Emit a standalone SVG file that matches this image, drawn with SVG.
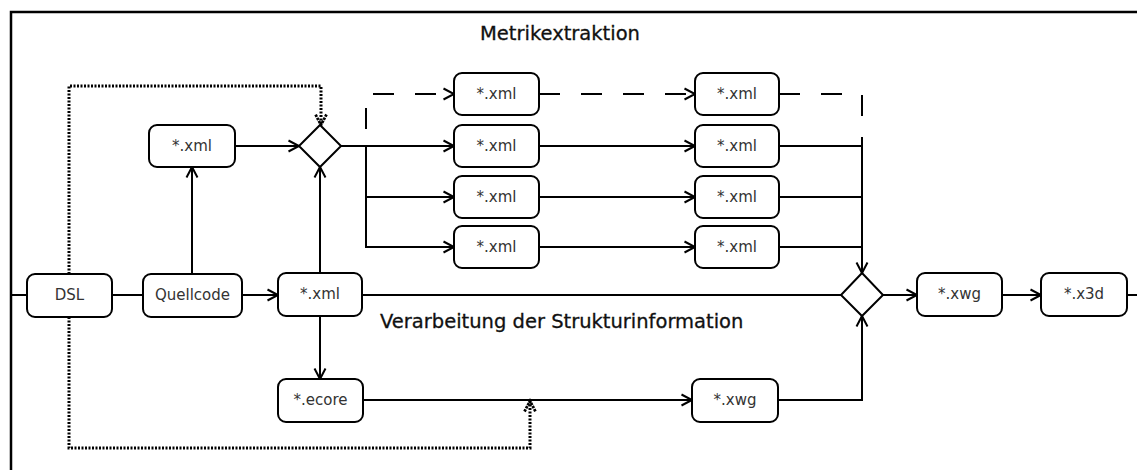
<svg xmlns="http://www.w3.org/2000/svg" width="1137" height="470" viewBox="0 0 1137 470">
  <style>
    .frame { fill: none; stroke: #000; stroke-width: 2.5; }
    .node rect { fill: #fff; stroke: #000; stroke-width: 2; }
    .node text { font-family: "DejaVu Sans", "Liberation Sans", sans-serif; font-size: 15px; fill: #333; text-anchor: middle; }
    .decision { fill: #fff; stroke: #000; stroke-width: 2; }
    .title { font-family: "DejaVu Sans", "Liberation Sans", sans-serif; font-size: 19.5px; fill: #111; stroke: #111; stroke-width: 0.3; }
    .edge { fill: none; stroke: #000; stroke-width: 2; }
    .arrow { marker-end: url(#open-arrow); }
    .dashed { stroke-dasharray: 21 21; }
    .dotted { fill: none; stroke: #000; stroke-width: 3; stroke-dasharray: 2 1.5; marker-end: url(#dotted-arrow); }
  </style>
  <defs>
    <marker id="open-arrow" markerUnits="userSpaceOnUse" markerWidth="14" markerHeight="14" refX="11" refY="6" orient="auto" overflow="visible">
      <path d="M0.5,0.5 L11,6 L0.5,11.5" fill="none" stroke="#000" stroke-width="2"/>
    </marker>
    <marker id="dotted-arrow" markerUnits="userSpaceOnUse" markerWidth="14" markerHeight="14" refX="11" refY="6" orient="auto" overflow="visible">
      <path d="M0.5,0.5 L11,6 L0.5,11.5" fill="none" stroke="#000" stroke-width="2.8" stroke-dasharray="2.5 1"/>
    </marker>
  </defs>

  <rect width="1137" height="470" fill="#fff"/>

  <!-- partition frame: top edge and left edge -->
  <path class="frame" d="M11,470 V12 H1137"/>

  <text class="title" x="480" y="40">Metrikextraktion</text>
  <text class="title" x="380" y="328">Verarbeitung der Strukturinformation</text>

  <g id="connectors">
    <!-- main flow -->
    <path class="edge" d="M11,295 H27"/>
    <path class="edge" d="M112,295 H143"/>
    <path class="edge arrow" d="M242,295 H278"/>
    <path class="edge arrow" d="M192,274 V167"/>
    <path class="edge arrow" d="M235,146 H299"/>
    <path class="edge arrow" d="M320,273 V167"/>
    <path class="edge arrow" d="M320,316 V379"/>
    <path class="edge" d="M362,295 H841"/>

    <!-- fork after the upper decision -->
    <path class="edge arrow" d="M341,146 H454"/>
    <path class="edge arrow" d="M366,146 V247 H454"/>
    <path class="edge arrow" d="M366,197 H454"/>
    <path class="edge dashed arrow" stroke-dashoffset="25" d="M366,146 V94 H454"/>

    <!-- metric rows -->
    <path class="edge dashed arrow" d="M539,94 H695"/>
    <path class="edge arrow" d="M539,146 H695"/>
    <path class="edge arrow" d="M539,197 H695"/>
    <path class="edge arrow" d="M539,247 H695"/>

    <!-- join into the merge decision -->
    <path class="edge dashed" d="M779,94 H862 V146"/>
    <path class="edge" d="M779,146 H862"/>
    <path class="edge" d="M779,197 H862"/>
    <path class="edge" d="M779,247 H862"/>
    <path class="edge arrow" d="M862,139 V273"/>

    <!-- structure branch -->
    <path class="edge arrow" d="M363,400 H692"/>
    <path class="edge arrow" d="M778,400 H862 V316"/>

    <!-- output chain -->
    <path class="edge arrow" d="M883,295 H917"/>
    <path class="edge arrow" d="M1002,295 H1041"/>
    <path class="edge" d="M1127,295 H1137"/>

    <!-- DSL dependencies -->
    <path class="dotted" d="M69,274 V86 H321 V125"/>
    <path class="dotted" d="M69,317 V448 H530 V401"/>
  </g>

  <g id="dsl" class="node"><rect x="27" y="274" width="85" height="43" rx="8"/><text x="69.5" y="300">DSL</text></g>
  <g id="quellcode" class="node"><rect x="143" y="274" width="99" height="43" rx="8"/><text x="192.5" y="300">Quellcode</text></g>
  <g id="xml-main" class="node"><rect x="278" y="273" width="84" height="43" rx="8"/><text x="320" y="299">*.xml</text></g>
  <g id="xml-top" class="node"><rect x="149" y="125" width="86" height="42" rx="8"/><text x="192" y="151">*.xml</text></g>
  <g id="decision-top"><polygon class="decision" points="320,125 341,146 320,167 299,146"/></g>

  <g id="xml-a1" class="node"><rect x="454" y="73" width="85" height="42" rx="8"/><text x="496.5" y="99">*.xml</text></g>
  <g id="xml-a2" class="node"><rect x="454" y="125" width="85" height="42" rx="8"/><text x="496.5" y="151">*.xml</text></g>
  <g id="xml-a3" class="node"><rect x="454" y="176" width="85" height="42" rx="8"/><text x="496.5" y="202">*.xml</text></g>
  <g id="xml-a4" class="node"><rect x="454" y="226" width="85" height="42" rx="8"/><text x="496.5" y="252">*.xml</text></g>

  <g id="xml-b1" class="node"><rect x="695" y="73" width="84" height="42" rx="8"/><text x="737" y="99">*.xml</text></g>
  <g id="xml-b2" class="node"><rect x="695" y="125" width="84" height="42" rx="8"/><text x="737" y="151">*.xml</text></g>
  <g id="xml-b3" class="node"><rect x="695" y="176" width="84" height="42" rx="8"/><text x="737" y="202">*.xml</text></g>
  <g id="xml-b4" class="node"><rect x="695" y="226" width="84" height="42" rx="8"/><text x="737" y="252">*.xml</text></g>

  <g id="ecore" class="node"><rect x="278" y="379" width="85" height="43" rx="8"/><text x="320.5" y="405">*.ecore</text></g>
  <g id="xwg-struct" class="node"><rect x="692" y="379" width="86" height="43" rx="8"/><text x="735" y="405">*.xwg</text></g>

  <g id="decision-merge"><polygon class="decision" points="862,273 883,295 862,316 841,295"/></g>
  <g id="xwg-out" class="node"><rect x="917" y="273" width="85" height="43" rx="8"/><text x="959.5" y="299">*.xwg</text></g>
  <g id="x3d" class="node"><rect x="1041" y="273" width="86" height="43" rx="8"/><text x="1084" y="299">*.x3d</text></g>
</svg>
